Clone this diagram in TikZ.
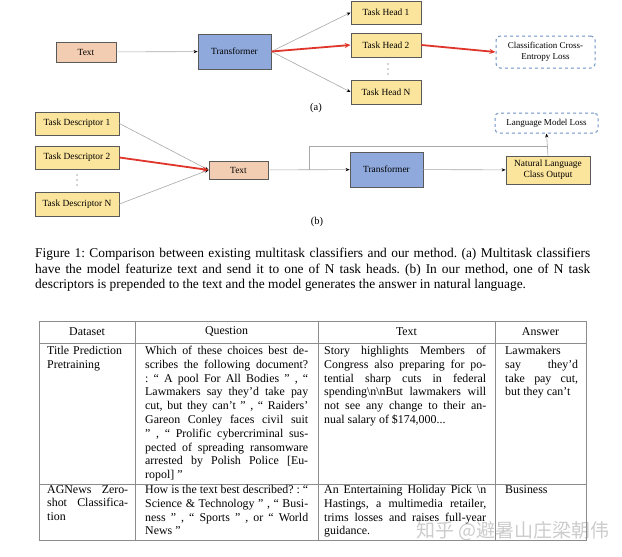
\documentclass[tikz,border=0pt]{standalone}
\usepackage{fontspec}
\setmainfont{Liberation Serif}
\newfontfamily\cjkwm{Noto Sans CJK SC}
\usetikzlibrary{arrows.meta,calc}
\definecolor{txtfill}{HTML}{F3CDB1}
\definecolor{trfill}{HTML}{8FA9DC}
\definecolor{hdfill}{HTML}{FBE49C}
\definecolor{bord}{HTML}{5A5A5A}
\definecolor{lossblue}{HTML}{6F93C4}
\definecolor{redline}{HTML}{E0352B}
\definecolor{conn}{HTML}{A8A8A8}
\definecolor{tabline}{HTML}{8C8C8C}
\frenchspacing
\tikzset{
  boxbase/.style={draw=bord,line width=0.8pt,inner sep=1pt,align=center,font=\fontsize{9.4}{11}\selectfont},
  txtbox/.style={boxbase,fill=txtfill},
  trbox/.style={boxbase,fill=trfill,minimum width=73pt,minimum height=35pt},
  hdbox/.style={boxbase,fill=hdfill},
  lossbox/.style={draw=lossblue,line width=1pt,dashed,rounded corners=4pt,fill=white,align=center,font=\fontsize{9}{11}\selectfont},
  thin/.style={draw=conn,line width=0.6pt,-{Stealth[black,length=4pt,width=3.2pt]}},
  thinline/.style={draw=conn,line width=0.6pt},
  redarr/.style={draw=redline,line width=1.8pt,-{Stealth[redline,length=6pt,width=5pt]}},
  tabtxt/.style={anchor=north west,inner sep=0pt,align=justify,font=\frenchspacing\fontsize{11.9}{13.8}\selectfont},
  tabhd/.style={inner sep=0pt,font=\fontsize{11.9}{13.8}\selectfont},
  dotmark/.style={fill=black!70,circle,inner sep=0pt,minimum size=1.3pt},
}
\begin{document}
\begin{tikzpicture}[x=1pt,y=-1pt]
\useasboundingbox (0,0) rectangle (622,557);
\fill[white] (0,0) rectangle (622,557);
% ---------- (a)
\node[txtbox,minimum width=60pt,minimum height=20pt] (atext) at (86,52) {Text};
\node[trbox] (atrans) at (234.5,51.5) {Transformer};
\node[hdbox,minimum width=70pt,minimum height=23pt] (h1) at (386,12.5) {Task Head 1};
\node[hdbox,minimum width=70pt,minimum height=24pt] (h2) at (386,45) {Task Head 2};
\node[hdbox,minimum width=70pt,minimum height=24pt] (hN) at (386,92) {Task Head N};
\foreach \dy in {64,69,74} \node[dotmark] at (388,\dy) {};
\node[lossbox,minimum width=99pt,minimum height=32pt] (aloss) at (545.5,52) {Classification Cross-\\Entropy Loss};
\node[font=\fontsize{10.5}{12}\selectfont] (alab) at (316,108) {(a)};
\draw[thin] (atext) -- (atrans);
\draw[thin] (atrans.east) -- (h1.west);
\draw[thin] (atrans.east) -- (hN.west);
\draw[redarr] (atrans.east) -- (h2.west);
\draw[redarr] (h2.east) -- (aloss.west);
% ---------- (b)
\node[hdbox,minimum width=84pt,minimum height=23pt] (d1) at (77,123.5) {Task Descriptor 1};
\node[hdbox,minimum width=84pt,minimum height=23pt] (d2) at (77,157.5) {Task Descriptor 2};
\node[hdbox,minimum width=84pt,minimum height=24pt] (dN) at (77,204) {Task Descriptor N};
\foreach \dy in {175,180,185} \node[dotmark] at (77,\dy) {};
\node[txtbox,minimum width=59pt,minimum height=18pt] (btext) at (238.5,170) {Text};
\node[trbox] (btrans) at (386.5,169.5) {Transformer};
\node[hdbox,minimum width=84pt,minimum height=28pt] (bout) at (548,170) {Natural Language\\Class Output};
\node[lossbox,minimum width=103pt,minimum height=20pt] (bloss) at (546.5,123) {Language Model Loss};
\node[font=\fontsize{10.5}{12}\selectfont] (blab) at (317,222) {(b)};
\draw[thin] (d1.east) -- (btext.west);
\draw[thin] (dN.east) -- (btext.west);
\draw[redarr] (d2.east) -- (btext.west);
\coordinate (br) at (309,170);
\coordinate (brtop) at (309,146);
\draw[thin] (btext) -- (btrans);
\draw[thin] (btrans) -- (bout);
\draw[thinline] (br) -- (brtop) -- (brtop -| bout.north);
\draw[thin] (bout.north) -- (bloss.south);
% ---------- caption
\node[anchor=north west,inner sep=0pt,text width=555pt,align=justify,font=\frenchspacing\fontsize{13.4}{15.5}\selectfont] (cap) at (35,248)
{Figure 1: Comparison between existing multitask classifiers and our method. (a) Multitask classifiers\linebreak
have the model featurize text and send it to one of N task heads. (b) In our method, one of N task\linebreak
descriptors is prepended to the text and the model generates the answer in natural language.};
% ---------- table
\draw[tabline,line width=0.8pt] (39,321) rectangle (586,540);
\draw[tabline,line width=0.8pt] (39,343) -- (586,343);
\draw[tabline,line width=0.8pt] (39,484) -- (586,484);
\foreach \cx in {135,318,495} \draw[tabline,line width=0.8pt] (\cx,321) -- (\cx,540);
\node[tabhd] (th1) at (87,332) {Dataset};
\node[tabhd] (th2) at (226.5,332) {Question};
\node[tabhd] (th3) at (406.5,332) {Text};
\node[tabhd] (th4) at (540.5,332) {Answer};
% row 1
\node[tabtxt,text width=81pt,align=left] (r1a) at (47,346) {Title Prediction\\Pretraining};
\node[tabtxt,text width=163pt] (r1b) at (145,346) {Which of these choices best de-\linebreak
scribes the following document?\linebreak
: “ A pool For All Bodies ” , “\linebreak
Lawmakers say they’d take pay\linebreak
cut, but they can’t ” , “ Raiders’\linebreak
Gareon Conley faces civil suit\linebreak
” , “ Prolific cybercriminal sus-\linebreak
pected of spreading ransomware\linebreak
arrested by Polish Police [Eu-\linebreak
ropol] ”};
\node[tabtxt,text width=162pt] (r1c) at (324,346) {Story highlights Members of\linebreak
Congress also preparing for po-\linebreak
tential sharp cuts in federal\linebreak
spending\textbackslash n\textbackslash nBut lawmakers will\linebreak
not see any change to their an-\linebreak
nual salary of \$174,000...};
\node[tabtxt,text width=73pt] (r1d) at (505,346) {Lawmakers\\
say they’d\linebreak
take pay cut,\linebreak
but they can’t};
% row 2
\node[tabtxt,text width=81pt] (r2a) at (47,485) {AGNews Zero-\linebreak
shot Classifica-\linebreak
tion};
\node[tabtxt,text width=163pt] (r2b) at (145,485) {How is the text best described? : “\linebreak
Science \& Technology ” , “ Busi-\linebreak
ness ” , “ Sports ” , or “ World\linebreak
News ”};
\node[tabtxt,text width=162pt] (r2c) at (324,485) {An Entertaining Holiday Pick \textbackslash n\linebreak
Hastings, a multimedia retailer,\linebreak
trims losses and raises full-year\linebreak
guidance.};
\node[tabtxt,text width=73pt,align=left] (r2d) at (505,485) {Business};
% watermark
\node[anchor=west,inner sep=0pt,text=gray,opacity=0.4,font=\cjkwm\fontsize{19}{19}\selectfont] (wm) at (416,531) {知乎 @避暑山庄梁朝伟};
\end{tikzpicture}
\end{document}
